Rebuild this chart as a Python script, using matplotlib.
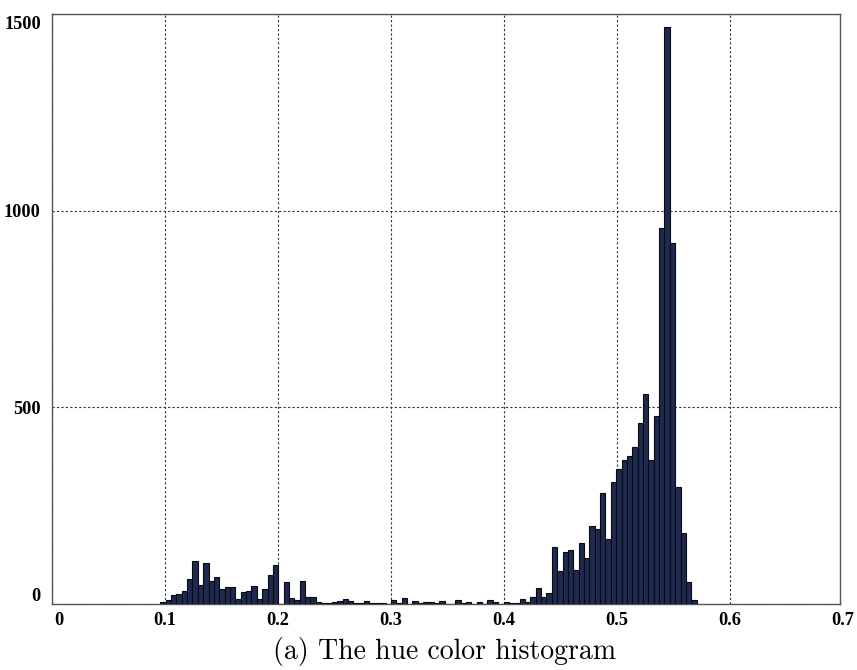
import numpy as np
import matplotlib
matplotlib.use("Agg")
import matplotlib.pyplot as plt
import matplotlib.transforms as mtransforms

# Histogram data (hue values, regular bins)
bin_start = 0.0958
bin_width = 0.004746
counts = [6, 9, 22, 25, 32, 63, 109, 49, 105, 58,
          69, 37, 44, 44, 12, 30, 32, 47, 12, 37,
          75, 100, 0, 56, 16, 9, 58, 18, 17, 6,
          3, 3, 5, 8, 12, 7, 2, 3, 7, 3,
          3, 3, 0, 9, 3, 15, 0, 7, 2, 4,
          4, 2, 7, 0, 0, 9, 2, 4, 0, 5,
          0, 10, 6, 1, 4, 3, 2, 12, 6, 17,
          40, 17, 29, 146, 85, 132, 138, 87, 154, 116,
          199, 190, 282, 166, 310, 344, 366, 377, 398, 459,
          535, 366, 479, 955, 1466, 918, 297, 181, 55, 9]
x_ticks = [0, 0.1, 0.2, 0.3, 0.4, 0.5, 0.6, 0.7]
x_tick_labels = ["0", "0.1", "0.2", "0.3", "0.4", "0.5", "0.6", "0.7"]
y_ticks = [0, 500, 1000, 1500]
y_tick_labels = ["0", "500", "1000", "1500"]
caption = "(a) The hue color histogram"

lefts = bin_start + bin_width * np.arange(len(counts))

fig = plt.figure(figsize=(8.57, 6.7), dpi=100)
ax = fig.add_axes([0.0607, 0.0985, 0.9195, 0.8805])

ax.bar(lefts, counts, width=bin_width, align="edge",
       color="#1d2950", edgecolor="#0a0a0a", linewidth=0.8, zorder=3)

ax.set_xlim(0, 0.6973)
ax.set_ylim(0, 1500)
ax.set_xticks(x_ticks[:-1])
ax.set_xticklabels(x_tick_labels[:-1])
ax.set_yticks(y_ticks)
ax.set_yticklabels(y_tick_labels)

fs = 13.2
for lab in ax.get_xticklabels() + ax.get_yticklabels():
    lab.set_fontfamily("Liberation Serif")
    lab.set_fontweight("bold")
    lab.set_fontsize(fs)
ax.tick_params(axis="both", length=0)
ax.tick_params(axis="x", pad=6)
ax.tick_params(axis="y", pad=8)

# end labels shifted like the reference
xl = ax.get_xticklabels()
xl[0].set_transform(xl[0].get_transform() + mtransforms.ScaledTranslation(7/100, 0, fig.dpi_scale_trans))
yl = ax.get_yticklabels()
yl[0].set_transform(yl[0].get_transform() + mtransforms.ScaledTranslation(0, 10/100, fig.dpi_scale_trans))
yl[-1].set_transform(yl[-1].get_transform() + mtransforms.ScaledTranslation(0, -8/100, fig.dpi_scale_trans))
# last x label (0.7) drawn just outside the right edge
ax.text(0.7, -0.0135, x_tick_labels[-1], transform=ax.get_xaxis_transform(),
        ha="center", va="top", fontfamily="Liberation Serif",
        fontweight="bold", fontsize=fs, clip_on=False)

ax.grid(True, color="#333333", linestyle=(0, (2, 2)), linewidth=0.8, zorder=0)
for spine in ax.spines.values():
    spine.set_color("#555555")
    spine.set_linewidth(1.0)

fig.text(0.519, 0.027, caption, ha="center", va="center",
         fontfamily="cmr10", fontsize=20)

fig.savefig("out.png", dpi=100)
